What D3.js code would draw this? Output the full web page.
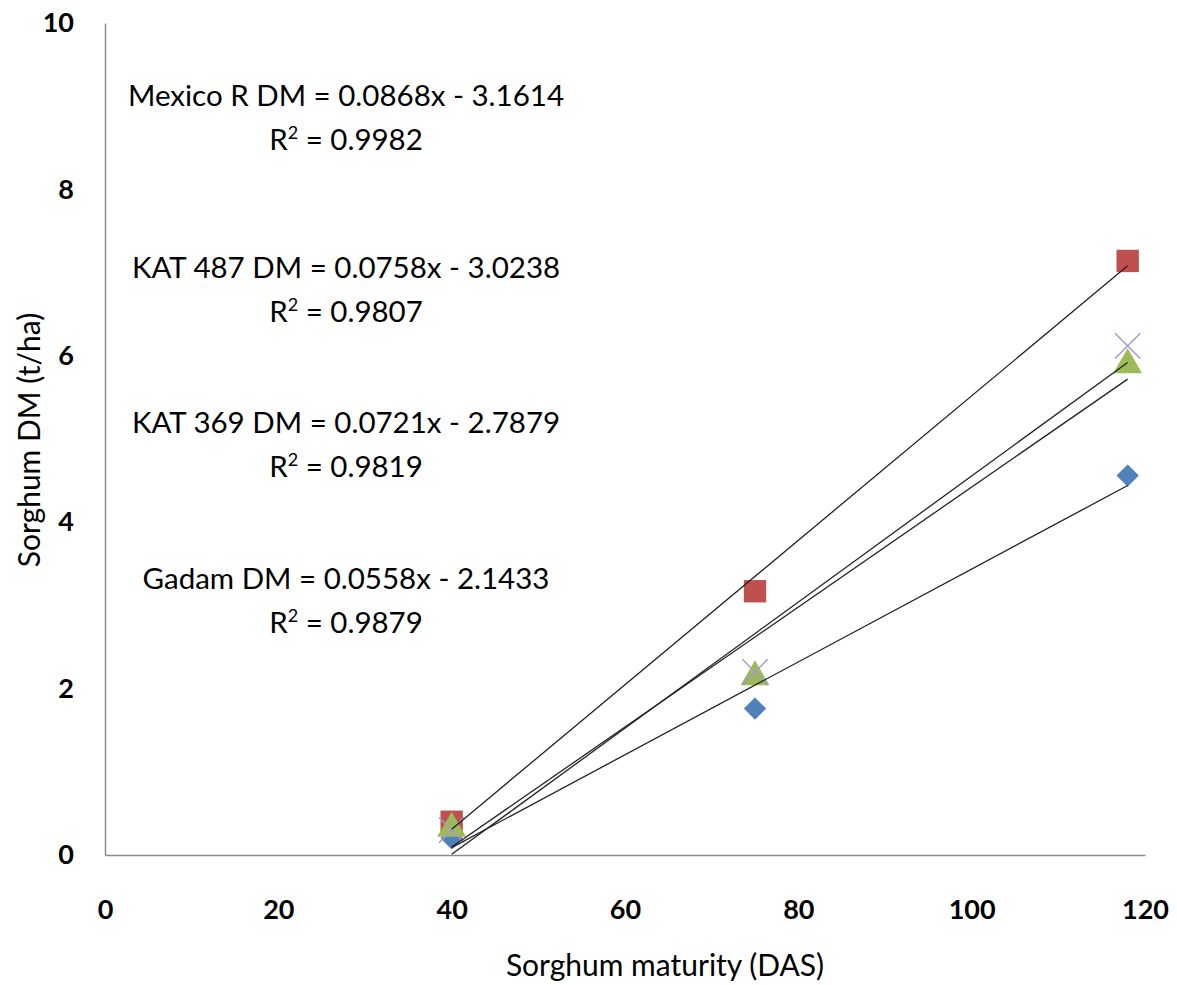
<!DOCTYPE html>
<html>
<head>
<meta charset="utf-8">
<script src="https://cdn.jsdelivr.net/npm/d3@7"></script>
<style>
  body { margin: 0; background: #fff; }
  text { font-family: Lato, "Open Sans", sans-serif; }
</style>
</head>
<body>
<div id="chart"></div>
<script>
// sowing-day points
const days = [40, 75, 118]

// one entry per variety, drawing order as in the sheet
const varieties = ["Gadam", "Mexico R", "KAT 369", "KAT 487"]
const gadamDM = [0.2, 1.76, 4.56]
const mexicoDM = [0.4, 3.17, 7.14]
const kat369DM = [0.32, 2.14, 5.89]
const kat487DM = [0.3, 2.2, 6.12]

// fitted trend lines (slope, intercept) and R2 from the picture
const slopes = [0.0558, 0.0868, 0.0721, 0.0758]
const intercepts = [-2.1433, -3.1614, -2.7879, -3.0238]
const r2 = ["0.9879", "0.9982", "0.9819", "0.9807"]

const xTicks = [0, 20, 40, 60, 80, 100, 120]
const yTicks = [0, 2, 4, 6, 8, 10]

const width = 1177
const height = 985
const margin = { left: 105, right: 32, top: 23, bottom: 130 }

const svg = d3.select("#chart")
    .append("svg")
    .attr("width", width)
    .attr("height", height)

const x = d3.scaleLinear()
    .domain([0, 120])
    .range([margin.left, width - margin.right])

const y = d3.scaleLinear()
    .domain([0, 10])
    .range([height - margin.bottom, margin.top])

// axes: plain grey lines, no tick marks
svg.append("g")
    .attr("transform", `translate(0,${y(0)})`)
    .call(d3.axisBottom(x).tickValues(xTicks).tickSize(0).tickPadding(45))
svg.append("g")
    .attr("transform", `translate(${x(0)},0)`)
    .call(d3.axisLeft(y).tickValues(yTicks).tickSize(0).tickPadding(31))

svg.selectAll(".domain").attr("stroke", "#8c8c8c").attr("stroke-width", 1.5)
svg.selectAll(".tick text")
    .attr("font-size", 27)
    .attr("font-weight", "bold")
    .attr("fill", "#000")
    .style("font-family", "Lato, sans-serif")

// axis titles
svg.append("text")
    .attr("x", 665)
    .attr("y", 976)
    .attr("text-anchor", "middle")
    .attr("font-size", 30)
    .text("Sorghum maturity (DAS)")

svg.append("text")
    .attr("transform", `translate(40,${440}) rotate(-90)`)
    .attr("text-anchor", "middle")
    .attr("font-size", 30)
    .text("Sorghum DM (t/ha)")

const seriesValues = [gadamDM, mexicoDM, kat369DM, kat487DM]
const colors = ["#4F81BD", "#C0504D", "#9BBB59", "#8064A2"]
const shapes = ["diamond", "square", "triangle", "cross"]

const series = varieties.map((name, i) => ({
    name: name,
    color: colors[i],
    shape: shapes[i],
    points: days.map((d, j) => ({ x: d, y: seriesValues[i][j] }))
}))

// markers
series.forEach(s => {
    const g = svg.append("g")
    s.points.forEach(p => {
        const cx = x(p.x), cy = y(p.y)
        if (s.shape === "diamond") {
            g.append("path")
                .attr("d", d3.symbol(d3.symbolSquare, 250)())
                .attr("transform", `translate(${cx},${cy}) rotate(45)`)
                .attr("fill", s.color)
        } else if (s.shape === "square") {
            g.append("path")
                .attr("d", d3.symbol(d3.symbolSquare, 500)())
                .attr("transform", `translate(${cx},${cy})`)
                .attr("fill", s.color)
        } else if (s.shape === "triangle") {
            g.append("path")
                .attr("d", d3.symbol(d3.symbolTriangle, 360)())
                .attr("transform", `translate(${cx},${cy})`)
                .attr("fill", s.color)
        } else {
            g.append("path")
                .attr("d", d3.symbol(d3.symbolTimes, 420)())
                .attr("transform", `translate(${cx},${cy})`)
                .attr("fill", "none")
                .attr("stroke", "#a898c8")
                .attr("stroke-width", 1.5)
        }
    })
})

// linear trend lines over the data range
const line = d3.line().x(d => x(d[0])).y(d => y(d[1]))
const xExtent = d3.extent(days)
series.forEach((s, i) => {
    const ends = xExtent.map(d => [d, slopes[i] * d + intercepts[i]])
    svg.append("path")
        .attr("d", line(ends))
        .attr("fill", "none")
        .attr("stroke", "#222")
        .attr("stroke-width", 1.3)
})

// equation labels, top to bottom
const labelOrder = [1, 3, 2, 0]
const labelY = [95, 267, 422, 578]
labelOrder.forEach((i, k) => {
    const sign = intercepts[i] < 0 ? " - " : " + "
    svg.append("text")
        .attr("x", 346)
        .attr("y", labelY[k] + 11)
        .attr("text-anchor", "middle")
        .attr("font-size", 29.5)
        .text(`${varieties[i]} DM = ${slopes[i].toFixed(4)}x${sign}${Math.abs(intercepts[i]).toFixed(4)}`)
    const t = svg.append("text")
        .attr("x", 346)
        .attr("y", labelY[k] + 55)
        .attr("text-anchor", "middle")
        .attr("font-size", 29.5)
    t.append("tspan").text("R")
    t.append("tspan").attr("font-size", 18).attr("dy", -11).text("2")
    t.append("tspan").attr("dy", 11).text(` = ${r2[i]}`)
})
</script>
</body>
</html>
